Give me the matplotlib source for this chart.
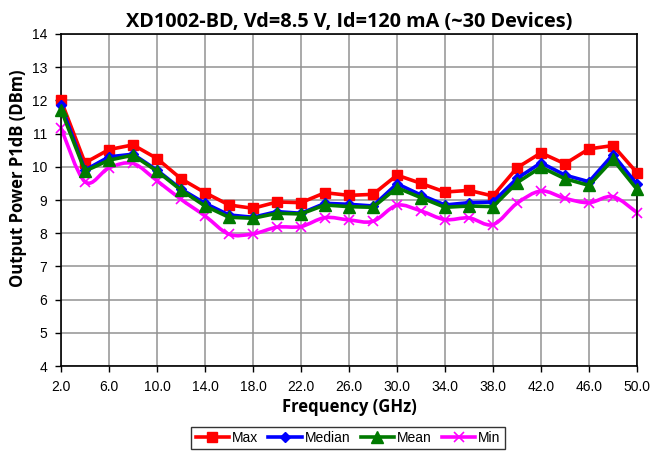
import matplotlib
matplotlib.use("Agg")
import matplotlib.pyplot as plt
from matplotlib.path import Path
from matplotlib.patches import PathPatch
from matplotlib.lines import Line2D
import numpy as np

freq = [2, 4, 6, 8, 10, 12, 14, 16, 18, 20, 22, 24, 26, 28, 30, 32, 34, 36, 38, 40, 42, 44, 46, 48, 50]
max_vals = [12.0, 10.12, 10.52, 10.66, 10.25, 9.64, 9.22, 8.85, 8.75, 8.94, 8.92, 9.22,
            9.14, 9.17, 9.75, 9.5, 9.24, 9.29, 9.12, 9.97, 10.42, 10.09, 10.54, 10.64, 9.82]
median_vals = [11.85, 9.9, 10.3, 10.38, 9.9, 9.33, 8.9, 8.55, 8.48, 8.65, 8.6, 8.9,
               8.87, 8.82, 9.49, 9.15, 8.85, 8.92, 8.94, 9.65, 10.12, 9.75, 9.55, 10.37, 9.47]
mean_vals = [11.72, 9.87, 10.2, 10.35, 9.87, 9.3, 8.82, 8.48, 8.45, 8.6, 8.58, 8.85,
             8.8, 8.78, 9.37, 9.07, 8.78, 8.82, 8.8, 9.52, 9.99, 9.64, 9.44, 10.22, 9.32]
min_vals = [11.17, 9.55, 9.97, 10.1, 9.58, 9.02, 8.52, 7.97, 7.98, 8.18, 8.2, 8.47,
            8.4, 8.36, 8.84, 8.67, 8.41, 8.46, 8.26, 8.9, 9.27, 9.05, 8.92, 9.1, 8.62]
xticks = [2, 6, 10, 14, 18, 22, 26, 30, 34, 38, 42, 46, 50]
yticks = [4, 5, 6, 7, 8, 9, 10, 11, 12, 13, 14]

title = "XD1002-BD, Vd=8.5 V, Id=120 mA (~30 Devices)"

W, H = 651, 451
fig = plt.figure(figsize=(W / 100, H / 100), dpi=100)
ax = fig.add_axes([61 / W, (H - 366) / H, 576 / W, 332 / H])

ax.set_xlim(2, 50)
ax.set_ylim(4, 14)
ax.set_xticks(xticks)
ax.set_xticklabels([f"{t:.1f}" for t in xticks], fontsize=10, family="Liberation Sans")
ax.set_yticks(yticks)
ax.set_yticklabels([str(t) for t in yticks], fontsize=10, family="Liberation Sans")
ax.grid(True, color="#929292", linewidth=1.1)
ax.set_axisbelow(True)
for s in ax.spines.values():
    s.set_color("black")
    s.set_linewidth(1.2)
ax.tick_params(direction="out", length=4, width=1, colors="black", pad=6)

lw = 2.6
ax.plot(freq, max_vals, color="#FF0000", lw=lw, marker="s", markersize=7, zorder=3, clip_on=False)
ax.plot(freq, median_vals, color="#0000FF", lw=lw, marker="D", markersize=5.5, zorder=4, clip_on=False)
ax.plot(freq, mean_vals, color="#007A00", lw=lw, marker="^", markersize=8, zorder=5, clip_on=False)

# smoothed Min line (Catmull-Rom style Bezier through the data points)
pts = np.column_stack([freq, min_vals]).astype(float)
verts = [pts[0]]
codes = [Path.MOVETO]
n = len(pts)
for i in range(n - 1):
    p0 = pts[i - 1] if i > 0 else pts[i]
    p1 = pts[i]
    p2 = pts[i + 1]
    p3 = pts[i + 2] if i + 2 < n else pts[i + 1]
    c1 = p1 + (p2 - p0) / 6.0
    c2 = p2 - (p3 - p1) / 6.0
    verts += [c1, c2, p2]
    codes += [Path.CURVE4] * 3
ax.add_patch(PathPatch(Path(verts, codes), fill=False, edgecolor="#FF00FF", lw=lw, zorder=2))
ax.plot(freq, min_vals, linestyle="none", marker="x", markersize=7, markeredgewidth=1.2,
        color="#FF00FF", zorder=2, clip_on=False)

ax.set_title(title, fontsize=14.3, fontweight="bold", family="Open Sans", pad=5)
ax.set_xlabel("Frequency (GHz)", fontsize=12, fontweight="bold", family="Open Sans", labelpad=3)
ax.set_ylabel("Output Power P1dB (DBm)", fontsize=12, fontweight="bold", family="Open Sans")
ax.yaxis.set_label_coords(-0.059, (366 - 178) / 332)

handles = [
    Line2D([], [], color="#FF0000", lw=lw, marker="s", markersize=7),
    Line2D([], [], color="#0000FF", lw=lw, marker="D", markersize=5.5),
    Line2D([], [], color="#007A00", lw=lw, marker="^", markersize=8),
    Line2D([], [], color="#FF00FF", lw=lw, marker="x", markersize=7, markeredgewidth=1.2),
]
leg = fig.legend(handles, ["Max", "Median", "Mean", "Min"], loc="upper center",
                 bbox_to_anchor=(348 / W, 1 - 427 / H), ncol=4, frameon=True,
                 fancybox=False, edgecolor="black", handlelength=2.4,
                 handletextpad=0.2, columnspacing=0.75, borderpad=0.3, borderaxespad=0,
                 prop={"family": "Liberation Sans", "size": 10})
leg.get_frame().set_linewidth(1.0)

fig.savefig("out.png", dpi=100)
